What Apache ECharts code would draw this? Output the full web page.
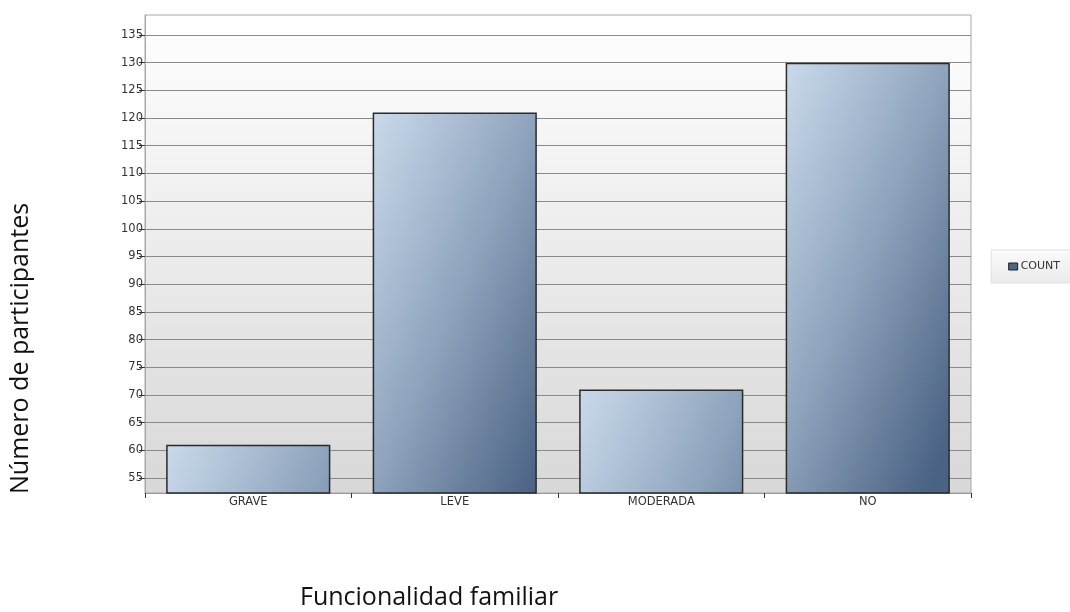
<!DOCTYPE html>
<html>
<head>
<meta charset="utf-8">
<script src="https://cdn.jsdelivr.net/npm/echarts@6/dist/echarts.min.js"></script>
<style>
  html, body { margin: 0; padding: 0; background: #ffffff; }
  #chart { width: 1070px; height: 612px; }
</style>
</head>
<body>
<div id="chart"></div>
<script>
// Participants by family functioning level
const categories = ['GRAVE', 'LEVE', 'MODERADA', 'NO'];
const countValues = [61, 121, 71, 130];
const yTicks = [55, 60, 65, 70, 75, 80, 85, 90, 95, 100, 105, 110, 115, 120, 125, 130, 135];
const seriesName = 'COUNT';
const xTitle = 'Funcionalidad familiar';
const yTitle = 'Número de participantes';

const Y_MIN = 52.3;
const Y_MAX = 138.6;

const chart = echarts.init(document.getElementById('chart'), null, { renderer: 'canvas' });

const plotFill = new echarts.graphic.LinearGradient(0, 0, 0, 1, [
  { offset: 0, color: '#ffffff' },
  { offset: 1, color: '#d8d8d8' }
]);

const legendFill = new echarts.graphic.LinearGradient(0, 0, 0, 1, [
  { offset: 0, color: '#fbfbfb' },
  { offset: 1, color: '#eaeaea' }
]);

// Bar shading: light steel blue at the top-left corner, darkening towards
// the right and, more slowly, downwards, at a fixed pixel rate per bar.
const SHADE_STOPS = [
  { offset: 0, color: '#cadaec' },
  { offset: 0.5, color: '#8ea3bc' },
  { offset: 1, color: '#4a6283' }
];
function barShade(widthPx, heightPx) {
  const vx = 276, vy = 119; // pixel vector of the gradient
  return new echarts.graphic.LinearGradient(0, 0, vx / widthPx, vy / Math.max(heightPx, 1), SHADE_STOPS);
}

function buildOption(barData) {
  return {
    animation: false,
    backgroundColor: '#ffffff',
    grid: {
      left: 145, right: 99, top: 15, bottom: 119,
      show: true,
      backgroundColor: plotFill,
      borderColor: '#a8a8a8',
      borderWidth: 1
    },
    legend: {
      right: -2, top: 250,
      orient: 'vertical',
      padding: [11, 12, 11, 17],
      backgroundColor: legendFill,
      borderColor: '#e0e0e0',
      borderWidth: 1,
      icon: 'rect',
      itemWidth: 9, itemHeight: 7,
      itemGap: 4,
      itemStyle: { color: '#4d6688', borderColor: '#1e1e1e', borderWidth: 1 },
      textStyle: { fontFamily: 'DejaVu Sans', fontSize: 11, color: '#333', padding: [0, 0, 0, -2] },
      data: [seriesName]
    },
    graphic: [
      {
        type: 'text',
        left: 300, top: 585,
        style: { text: xTitle, fontFamily: 'Open Sans', fontSize: 25, fill: '#111' }
      },
      {
        type: 'text',
        x: 8, y: 494,
        rotation: Math.PI / 2,
        style: { text: yTitle, fontFamily: 'Open Sans', fontSize: 25, fill: '#111', textAlign: 'left', textVerticalAlign: 'top' }
      }
    ],
    xAxis: {
      type: 'category',
      data: categories,
      axisLine: { show: true, lineStyle: { color: '#9a9a9a', width: 1 } },
      axisTick: { show: true, length: 5, lineStyle: { color: '#333' } },
      axisLabel: { fontFamily: 'DejaVu Sans', fontSize: 11.5, color: '#333', margin: 3 }
    },
    yAxis: {
      type: 'value',
      min: Y_MIN,
      max: Y_MAX,
      axisLine: { show: true, lineStyle: { color: '#a8a8a8' } },
      axisTick: { show: true, length: 6, customValues: yTicks, lineStyle: { color: '#333' } },
      axisLabel: { customValues: yTicks, fontFamily: 'DejaVu Sans', fontSize: 11.5, color: '#333', margin: 2 },
      splitLine: { show: true, customValues: yTicks, lineStyle: { color: '#8a8a8a', width: 1 } }
    },
    series: [{
      name: seriesName,
      type: 'bar',
      data: barData,
      barCategoryGap: '20.5%',
      itemStyle: {
        color: '#8ea3bc',
        borderColor: '#2a2a2a',
        borderWidth: 1.5
      }
    }]
  };
}

chart.setOption(buildOption(countValues.slice()));

// Once the axes exist, give every bar its own shading sized to the bar.
const basePx = chart.convertToPixel({ yAxisIndex: 0 }, Y_MIN);
const slotPx = chart.convertToPixel({ xAxisIndex: 0 }, categories[1]) - chart.convertToPixel({ xAxisIndex: 0 }, categories[0]);
const barWidthPx = slotPx * (1 - 0.205);
const shadedData = countValues.map(function (v) {
  const h = basePx - chart.convertToPixel({ yAxisIndex: 0 }, v);
  return { value: v, itemStyle: { color: barShade(barWidthPx, h) } };
});
chart.setOption({ series: [{ data: shadedData }] });
</script>
</body>
</html>
